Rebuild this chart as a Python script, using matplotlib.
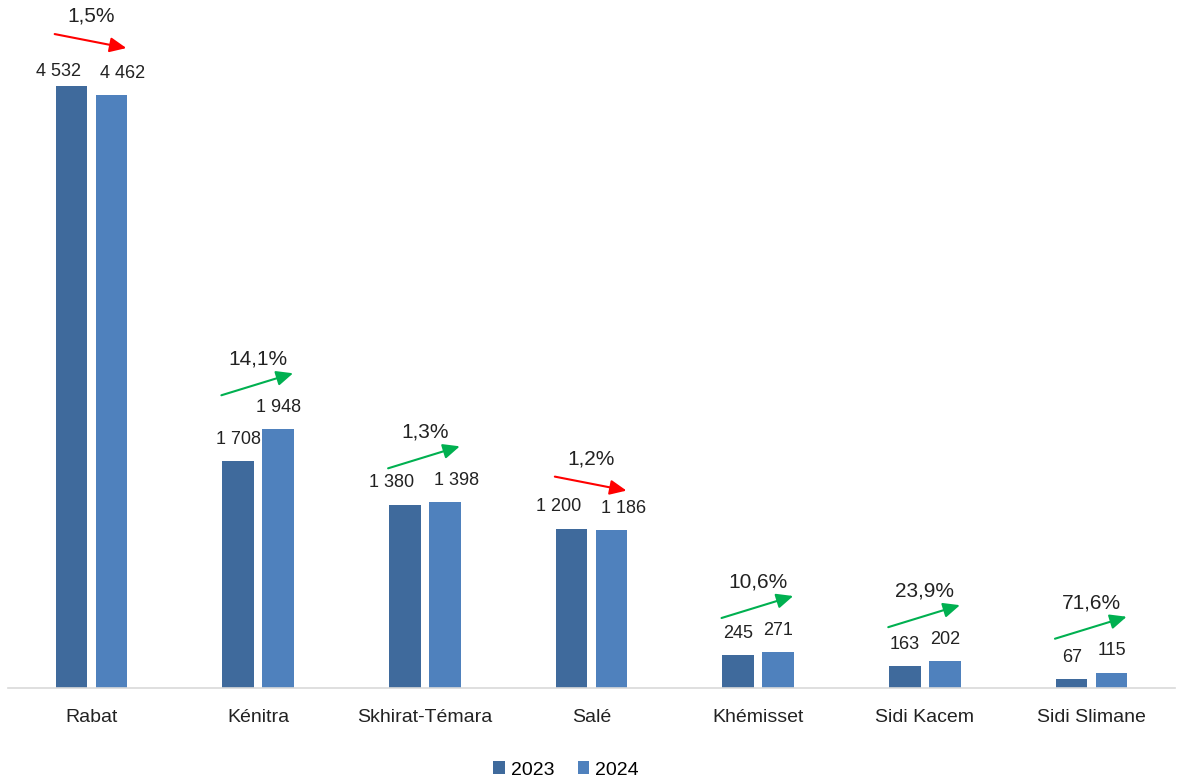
import matplotlib.pyplot as plt
import numpy as np

plt.rcParams['font.family'] = ['Liberation Sans', 'DejaVu Sans']

# données
villes = ["Rabat", "Kénitra", "Skhirat-Témara", "Salé", "Khémisset", "Sidi Kacem", "Sidi Slimane"]
v2023 = [4532, 1708, 1380, 1200, 245, 163, 67]
v2024 = [4462, 1948, 1398, 1186, 271, 202, 115]
variation = [-1.5, 14.1, 1.3, -1.2, 10.6, 23.9, 71.6]

c2023 = "#3F6A9C"
c2024 = "#4F81BD"

fig = plt.figure(figsize=(11.77, 7.80), dpi=100)
ax = fig.add_axes([8 / 1177, 92 / 780, 1167 / 1177, 688 / 780])

x = np.arange(len(villes))
w = 0.19
off = 0.12
ax.bar(x - off, v2023, w, color=c2023, label="2023", zorder=2)
ax.bar(x + off, v2024, w, color=c2024, label="2024", zorder=2)

ymax = 5180
px = ymax / 688  # une unité pixel en données
ax.set_xlim(-0.5, len(villes) - 0.5)
ax.set_ylim(0, ymax)

# étiquettes de valeurs
cap = ymax - 72 * px
for i in range(len(villes)):
    proche = abs(v2023[i] - v2024[i]) < 100 and v2023[i] >= 1000
    for dx, v in ((-off, v2023[i]), (off, v2024[i])):
        y = min(v + 22 * px, cap)
        xx = x[i] + dx
        if proche:
            xx += -0.08 if dx < 0 else 0.07
        ax.text(xx, y, f"{v:,}".replace(",", " "), ha="center", va="center",
                fontsize=13, color="#222222")

# flèches de variation
for i, p in enumerate(variation):
    top = max(v2023[i], v2024[i])
    mid = min(top + 45 * px, ymax - 41 * px)
    rise = 11 * px if p > 0 else -7 * px
    col = "#00B050" if p > 0 else "#FF0000"
    ax.annotate("", xy=(x[i] + 0.21, mid + rise), xytext=(x[i] - 0.22, mid - rise),
                arrowprops=dict(arrowstyle="-|>,head_length=1.0,head_width=0.45",
                                color=col, lw=1.5, shrinkA=0, shrinkB=0))
    ax.text(x[i], mid + 25 * px, f"{abs(p):.1f}%".replace(".", ","),
            ha="center", va="center", fontsize=15, color="#222222")

for s in ["top", "right", "left"]:
    ax.spines[s].set_visible(False)
ax.spines["bottom"].set_color("#D9D9D9")
ax.spines["bottom"].set_linewidth(1.2)
ax.set_yticks([])
ax.set_xticks(x)
ax.set_xticklabels(villes, fontsize=14, color="#222222")
ax.tick_params(axis="x", length=0, pad=15)

fig.legend(loc="center", bbox_to_anchor=(566 / 1177, 10 / 780), ncol=2, frameon=False,
           fontsize=14, handlelength=0.6, handleheight=0.6, handletextpad=0.3,
           columnspacing=1.2)

fig.savefig("out.png", dpi=100)
